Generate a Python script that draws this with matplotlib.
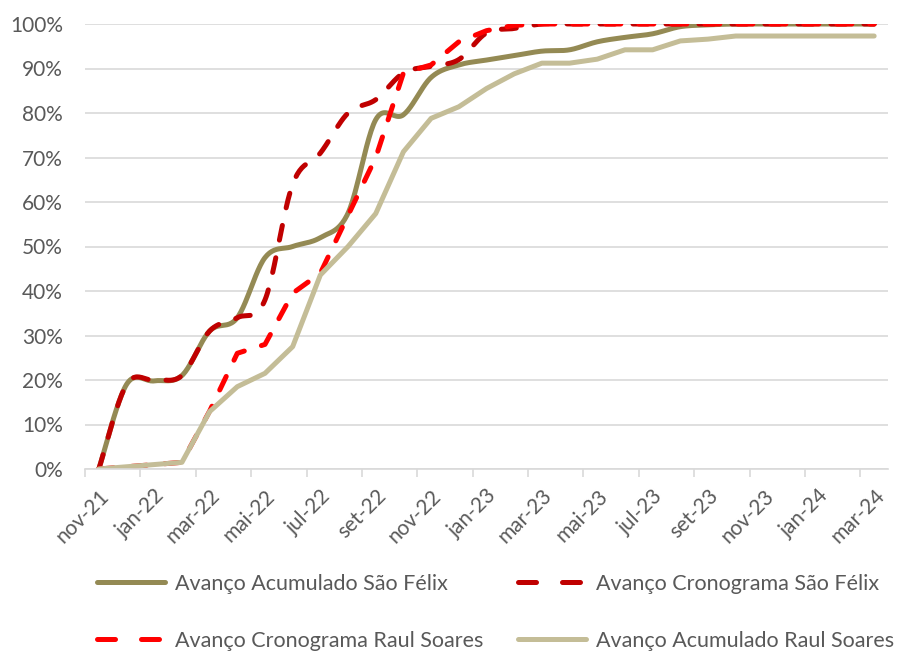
import numpy as np
import matplotlib
matplotlib.use("Agg")
import matplotlib.pyplot as plt
from matplotlib.lines import Line2D
from matplotlib.ticker import FixedLocator, PercentFormatter

plt.rcParams['font.family'] = ['Lato', 'DejaVu Sans']

months = ["nov-21", "dez-21", "jan-22", "fev-22", "mar-22", "abr-22", "mai-22", "jun-22",
          "jul-22", "ago-22", "set-22", "out-22", "nov-22", "dez-22", "jan-23", "fev-23",
          "mar-23", "abr-23", "mai-23", "jun-23", "jul-23", "ago-23", "set-23", "out-23",
          "nov-23", "dez-23", "jan-24", "fev-24", "mar-24"]

acum_sao_felix = [0, 19.0, 19.8, 21, 31, 34, 47.5, 50, 52, 57.5, 78.5, 79.6, 88, 90.8,
                  91.9, 92.9, 93.9, 94.2, 96, 97, 97.8, 99.4, 99.8, 100, 100, 100, 100, 100, 100]
crono_sao_felix = [0, 19.0, 20, 21, 31, 34, 38, 64, 71, 80, 83, 89, 90.5, 92,
                   98, 99, 100, 100, 100, 100, 100, 100, 100, 100, 100, 100, 100, 100, 100]
crono_raul = [0, 0.5, 1, 1.5, 13, 26, 28, 39.5, 44, 57, 70, 89, 90.8, 96,
              98.5, 99.7, 100, 100, 100, 100, 100, 100, 100, 100, 100, 100, 100, 100, 100]
acum_raul = [0, 0.5, 1, 1.5, 12.9, 18.5, 21.5, 27.5, 43.6, 50, 57.4, 71.3, 78.8, 81.4,
             85.5, 88.8, 91.2, 91.2, 92.1, 94.2, 94.2, 96.2, 96.6, 97.3, 97.3, 97.3, 97.3, 97.3, 97.3]

labels = ["Avanço Acumulado São Félix", "Avanço Cronograma São Félix",
          "Avanço Cronograma Raul Soares", "Avanço Acumulado Raul Soares"]
colors = ["#948A54", "#C00000", "#FF0000", "#C4BD97"]


def excel_smooth(x, y, n=24):
    P = np.column_stack([x, y]).astype(float)
    out = [P[0]]
    m = len(P)
    t = np.linspace(0, 1, n + 1)[1:, None]
    for i in range(m - 1):
        p0 = P[i - 1] if i > 0 else P[i]
        p1, p2 = P[i], P[i + 1]
        p3 = P[i + 2] if i + 2 < m else P[i + 1]
        c1 = p1 + (p2 - p0) / 6
        c2 = p2 - (p3 - p1) / 6
        seg = ((1 - t) ** 3) * p1 + 3 * ((1 - t) ** 2) * t * c1 + 3 * (1 - t) * t ** 2 * c2 + t ** 3 * p2
        out.extend(seg)
    out = np.array(out)
    return out[:, 0], out[:, 1]


fig = plt.figure(figsize=(9.06, 6.53), dpi=100)
ax = fig.add_axes([85 / 906, 1 - 469 / 653, (888 - 85) / 906, (469 - 24) / 653])

x = np.arange(len(months))
lw = 3.6
series = [(acum_sao_felix, True, '-'), (crono_sao_felix, True, '--'),
          (crono_raul, False, '--'), (acum_raul, False, '-')]
proxies = []
for (vals, smooth, ls), lab, col in zip(series, labels, colors):
    if smooth:
        xs, ys = excel_smooth(x, vals)
    else:
        xs, ys = x, np.array(vals, float)
    if ls == '--':
        ax.plot(xs, ys, color=col, lw=lw, linestyle=(0, (3.0, 3.6)),
                dash_capstyle='round', solid_capstyle='round')
        proxies.append(Line2D([], [], color=col, lw=lw, linestyle=(0, (3.6, 5.2)),
                              dash_capstyle='round'))
    else:
        ax.plot(xs, ys, color=col, lw=lw, solid_capstyle='round',
                solid_joinstyle='round')
        proxies.append(Line2D([], [], color=col, lw=lw, solid_capstyle='round'))

ax.set_xlim(-0.5, len(months) - 0.5)
ax.set_ylim(0, 100)
ax.yaxis.set_major_locator(FixedLocator(np.arange(0, 101, 10)))
ax.yaxis.set_major_formatter(PercentFormatter(decimals=0))
ax.grid(axis='y', color='#D9D9D9', lw=1.2)
ax.set_axisbelow(True)
for s in ['top', 'right', 'left']:
    ax.spines[s].set_visible(False)
ax.spines['bottom'].set_color('#D9D9D9')
ax.spines['bottom'].set_linewidth(1.2)

ax.set_xticks(x[::2])
ax.set_xticklabels(months[::2], rotation=45, ha='right', rotation_mode='anchor')
ax.set_xticks(np.arange(-0.5, len(months), 2), minor=True)
ax.tick_params(axis='x', which='major', length=0, pad=12, labelsize=15, labelcolor='#595959')
ax.tick_params(axis='x', which='minor', length=6, color='#D9D9D9', width=1.2)
ax.tick_params(axis='y', length=0, pad=16, labelsize=15, labelcolor='#595959')

order = [0, 2, 1, 3]
leg = fig.legend([proxies[i] for i in order], [labels[i] for i in order],
                 loc='upper left', bbox_to_anchor=(97 / 906, 1 - 574 / 653),
                 ncol=2, frameon=False, fontsize=15.5, handlelength=3.16,
                 handletextpad=0.47, columnspacing=1.6, labelspacing=1.72,
                 borderpad=0, borderaxespad=0)
for t in leg.get_texts():
    t.set_color('#595959')

fig.savefig("out.png", dpi=100)
